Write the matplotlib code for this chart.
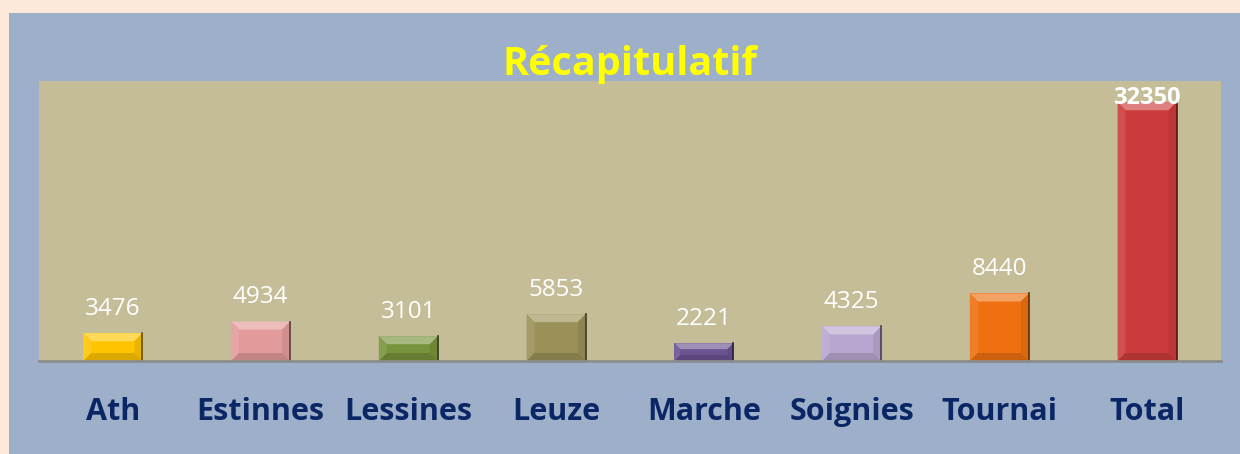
''' Bar chart: Récapitulatif par site. '''
import matplotlib
matplotlib.use('Agg')
import matplotlib.pyplot as plt
from matplotlib.colors import to_rgb
from matplotlib.patches import Polygon, Rectangle

plt.rcParams['font.family'] = ['Open Sans', 'DejaVu Sans']

CATEGORIES = ['Ath', 'Estinnes', 'Lessines', 'Leuze', 'Marche', 'Soignies', 'Tournai', 'Total']
VALUES = [3476, 4934, 3101, 5853, 2221, 4325, 8440, 32350]
COLORS = ['#FFC400', '#E39A9A', '#77933C', '#9A9058', '#6A5390', '#B9A6D0', '#EE7010', '#CC3B3B']
TITLE = 'Récapitulatif'

PEACH = '#FDE9D9'
BLUE = '#9EAFC9'
KHAKI = '#C4BD97'
NAVY = '#0B2665'


def mix(c, other, t):
    ''' Blend colour c towards other by t. '''
    a = to_rgb(c)
    b = to_rgb(other)
    return tuple(a[i] * (1 - t) + b[i] * t for i in range(3))


def bevel(ax, bar, color, px=8):
    ''' Fake the Excel bevel with a few shaded polygons on top of a bar. '''
    fig = ax.figure
    pos = ax.get_position()
    w_px = pos.width * fig.get_figwidth() * fig.dpi
    h_px = pos.height * fig.get_figheight() * fig.dpi
    x0, x1 = ax.get_xlim()
    y0, y1 = ax.get_ylim()
    bx = bar.get_x()
    bw = bar.get_width()
    by = bar.get_y()
    bh = bar.get_height()
    bar_h_px = bh / (y1 - y0) * h_px
    inset = min(px, bar_h_px / 3.0)
    dx = inset / w_px * (x1 - x0)
    dy = inset / h_px * (y1 - y0)
    L, R, B, T = bx, bx + bw, by, by + bh
    il, ir, ib, it = L + dx, R - dx, B + dy, T - dy
    faces = [
        ([(L, T), (R, T), (ir, it), (il, it)], mix(color, 'white', 0.35)),
        ([(L, B), (L, T), (il, it), (il, ib)], mix(color, 'white', 0.1)),
        ([(R, B), (R, T), (ir, it), (ir, ib)], mix(color, 'black', 0.08)),
        ([(L, B), (R, B), (ir, ib), (il, ib)], mix(color, 'black', 0.14)),
    ]
    for verts, c in faces:
        ax.add_patch(Polygon(verts, closed=True, facecolor=c, edgecolor='none', zorder=3))
    # dark rim on the right side
    ax.plot([R, R], [B, T], color=mix(color, 'black', 0.6), lw=1.2, zorder=4)


fig = plt.figure(figsize=(12.4, 4.54), dpi=100, facecolor=PEACH)
fig.patches.append(Rectangle((9 / 1240, 0), 1, 1 - 13 / 454, transform=fig.transFigure,
                             facecolor=BLUE, edgecolor='none', zorder=-1))

ax = fig.add_axes([39 / 1240, 93 / 454, 1182 / 1240, 280 / 454])
ax.set_zorder(1)
ax.set_facecolor(KHAKI)
ax.set_xlim(-0.5, len(CATEGORIES) - 0.5)
ax.set_ylim(0, 35000)

bars = ax.bar(range(len(CATEGORIES)), VALUES, width=0.4, color=COLORS, zorder=2)
for bar, c in zip(bars, COLORS):
    bevel(ax, bar, c)

for i, (bar, v) in enumerate(zip(bars, VALUES)):
    cx = bar.get_x() + bar.get_width() / 2
    if CATEGORIES[i] == 'Total':
        ax.annotate(str(v), (cx, v), xytext=(0, -1.5), textcoords='offset points',
                    ha='center', va='baseline', color='white', fontsize=17,
                    fontweight='bold', zorder=5)
    else:
        ax.annotate(str(v), (cx, v), xytext=(0, 13), textcoords='offset points',
                    ha='center', va='baseline', color='white', fontsize=17.5, zorder=5)

ax.set_xticks(range(len(CATEGORIES)))
ax.set_xticklabels(CATEGORIES, fontsize=22, fontweight='bold', color=NAVY)
ax.tick_params(axis='x', length=0, pad=26)
ax.set_yticks([])
for side in ['top', 'left', 'right']:
    ax.spines[side].set_visible(False)
ax.spines['bottom'].set_color('#8C8C8C')
ax.spines['bottom'].set_linewidth(2)
ax.spines['bottom'].set_zorder(6)

fig.text(0.508, (454 - 75) / 454, TITLE, ha='center', va='baseline', color='#FFFF00',
         fontsize=28.5, fontweight='bold', zorder=2)

fig.savefig('out.png', dpi=100, facecolor=PEACH)
